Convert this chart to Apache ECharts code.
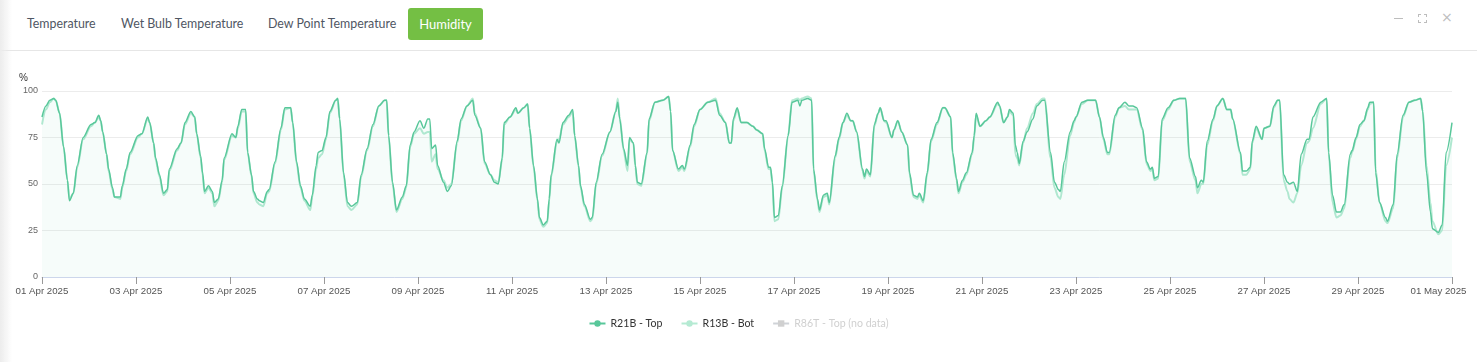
<!DOCTYPE html>
<html>
<head>
<meta charset="utf-8">
<script src="https://cdn.jsdelivr.net/npm/echarts@6/dist/echarts.min.js"></script>
<style>
  html,body{margin:0;padding:0;background:#fff;width:1477px;height:362px;overflow:hidden;}
  #shadow{position:absolute;left:0;top:0;width:12px;height:362px;background:linear-gradient(to right,#ececec,rgba(255,255,255,0));z-index:3;}
  #header{position:absolute;left:0;top:0;width:1477px;height:50px;border-bottom:1px solid #e6e6e6;background:#fff;z-index:2;font-family:Lato,"Open Sans",sans-serif;font-size:12.4px;color:#4f5663;}
  .tab{position:absolute;top:15px;line-height:17px;white-space:nowrap;}
  #hum{position:absolute;left:408px;top:8px;width:75px;height:32px;background:#74bf44;border-radius:3px;color:#fff;text-align:center;line-height:32px;font-size:13px;}
  .ic{position:absolute;background:#bdbdbd;}
  #chart{position:absolute;left:0;top:51px;width:1477px;height:311px;z-index:1;}
</style>
</head>
<body>
<div id="shadow"></div>
<div id="header">
  <div class="tab" style="left:27px">Temperature</div>
  <div class="tab" style="left:121px">Wet Bulb Temperature</div>
  <div class="tab" style="left:268px">Dew Point Temperature</div>
  <div id="hum">Humidity</div>
  <div class="ic" style="left:1394px;top:18px;width:9px;height:1px"></div>
  <div class="ic" style="left:1418px;top:14px;width:3px;height:1px"></div>
  <div class="ic" style="left:1418px;top:14px;width:1px;height:3px"></div>
  <div class="ic" style="left:1424px;top:14px;width:3px;height:1px"></div>
  <div class="ic" style="left:1426px;top:14px;width:1px;height:3px"></div>
  <div class="ic" style="left:1418px;top:22px;width:3px;height:1px"></div>
  <div class="ic" style="left:1418px;top:20px;width:1px;height:3px"></div>
  <div class="ic" style="left:1424px;top:22px;width:3px;height:1px"></div>
  <div class="ic" style="left:1426px;top:20px;width:1px;height:3px"></div>
  <div style="position:absolute;left:1441px;top:9px;font-size:14px;color:#bdbdbd;font-family:'DejaVu Sans',sans-serif;">×</div>
</div>
<div id="chart"></div>
<script>
// Hours since 01 Apr 2025 00:00
const hours = [
  0,2,4,6,7,9,11,13,14,16,18,21,
  25,27,29,30,31,33,34,36,37,40,41,43,45,
  49,51,54,55,57,58,60,62,64,65,69,71,
  73,76,78,79,81,82,83,85,87,88,90,92,93,
  97,99,100,102,104,105,107,108,110,111,113,115,116,119,
  122,124,127,128,130,132,134,137,138,140,141,143,
  145,147,150,151,152,154,156,158,161,163,166,
  169,172,175,176,177,179,181,184,186,188,190,
  193,195,197,198,199,201,202,205,207,209,212,214,
  217,220,221,224,226,229,231,233,235,236,239,
  242,243,246,248,249,251,253,254,256,258,259,260,263,264,
  266,269,271,272,274,275,277,280,281,283,286,
  290,293,294,295,297,299,300,302,303,304,306,309,310,
  313,317,320,321,322,325,327,328,331,333,
  336,340,344,346,349,351,352,353,355,357,
  360,363,365,368,369,371,372,373,374,376,378,381,383,
  386,387,388,391,393,394,396,397,399,401,402,405,407,
  409,411,413,414,416,419,420,421,423,425,427,428,430,431,
  434,435,437,439,442,443,445,447,448,450,452,454,
  457,460,461,464,465,467,468,470,472,475,476,477,479,
  482,484,488,489,491,493,494,496,497,498,499,501,503,
  506,508,511,512,515,517,519,520,522,525,527,528,
  531,534,538,540,542,544,545,548,550,
  553,555,557,559,562,564,566,567,568,570,572,575,
  578,581,584,586,589,590,592,593,595,598,600,
  603,605,607,608,612,613,615,617,618,620,623,624,
  627,629,631,632,634,636,637,639,641,643,646,647,
  649,653,656,657,659,661,663,665,668,669,671,
  673,675,677,678,680,681,683,686,687,690,692,695,
  698,701,704,705,707,709,710,713,715,717,720
];
const r21bTop = [
  86,92,95,96,95,88,70,52,41,45,60,75,
  82,83,87,84,78,66,58,48,43,43,49,58,67,
  76,77,86,83,72,64,55,45,47,58,69,72,
  83,89,86,77,65,56,46,49,46,40,42,52,64,
  77,75,81,90,90,67,55,46,42,41,40,46,47,62,
  80,91,91,83,62,49,42,38,44,60,67,68,
  75,89,95,96,85,56,40,38,40,55,69,
  82,92,95,95,76,51,36,43,49,71,78,
  84,80,85,85,69,71,60,51,46,49,73,85,
  92,95,87,80,62,55,51,50,64,83,86,
  91,88,91,93,80,60,42,32,28,30,42,55,74,72,
  83,87,90,76,60,49,39,31,32,51,66,
  78,89,94,85,69,60,75,72,60,51,50,67,85,
  94,95,97,89,68,58,60,58,71,82,
  90,94,95,87,83,72,72,85,91,83,
  83,81,79,77,69,59,59,51,32,33,49,76,94,
  95,92,95,96,95,58,42,36,44,45,40,65,75,
  83,88,84,84,78,58,54,58,55,82,88,91,84,84,
  75,79,84,78,71,56,44,43,45,41,56,74,
  83,91,91,86,67,53,46,52,56,67,76,88,81,
  84,86,94,92,83,86,90,88,71,67,61,73,78,
  85,92,95,95,67,51,47,46,62,78,84,86,
  94,95,95,86,75,67,67,87,91,
  94,92,92,91,80,62,58,59,53,54,85,91,
  95,96,96,64,54,48,52,51,73,85,92,
  96,90,90,85,67,57,57,59,73,81,74,80,
  81,92,95,95,55,51,50,51,46,66,74,74,
  86,94,96,67,44,35,35,39,66,68,75,
  82,84,91,94,94,56,40,32,30,39,66,87,
  94,95,96,89,56,35,26,24,28,67,83
];
const r13bBot = [
  82,90,94,96,95,88,70,52,42,45,59,74,
  81,83,86,84,78,66,57,47,43,42,48,57,66,
  75,77,85,83,72,63,54,44,46,57,68,72,
  82,88,86,77,64,55,45,48,45,38,41,51,63,
  76,75,80,89,89,67,54,45,40,39,38,45,46,61,
  79,90,91,83,61,48,41,36,43,58,64,66,
  74,88,95,96,85,55,38,36,39,54,68,
  81,92,95,95,76,50,35,42,48,70,77,
  80,77,78,78,62,66,58,52,48,50,72,84,
  92,96,88,80,61,55,52,51,63,82,86,
  90,88,91,93,80,59,41,31,27,29,41,54,73,74,
  82,86,89,76,59,48,38,30,31,50,65,
  78,89,96,86,68,57,74,72,59,50,49,66,84,
  94,95,97,89,68,57,59,57,70,81,
  90,94,96,88,83,72,72,84,90,83,
  83,81,79,77,68,58,58,50,30,31,48,76,95,
  96,95,96,97,96,57,41,35,43,44,39,64,74,
  83,87,84,84,78,57,53,57,54,81,88,91,84,83,
  75,79,84,78,71,55,43,42,44,40,55,73,
  82,91,91,86,66,52,45,51,55,66,75,87,81,
  84,86,93,92,83,86,89,87,66,64,60,72,80,
  88,93,96,96,64,48,43,42,55,76,83,86,
  93,95,95,86,74,66,66,86,91,
  92,90,90,90,79,61,57,58,52,53,84,90,
  95,96,96,62,52,45,50,50,71,84,92,
  96,90,90,85,66,55,55,58,72,80,74,80,
  81,91,95,95,52,46,42,40,45,60,72,73,
  80,93,96,66,40,32,33,37,64,67,74,
  81,84,90,93,94,58,40,30,29,37,64,86,
  94,95,96,90,60,40,30,23,25,60,75
];
const seriesNames = ['R21B - Top', 'R13B - Bot', 'R86T - Top (no data)'];
const xTickLabels = ['01 Apr 2025','03 Apr 2025','05 Apr 2025','07 Apr 2025','09 Apr 2025','11 Apr 2025','13 Apr 2025','15 Apr 2025','17 Apr 2025','19 Apr 2025','21 Apr 2025','23 Apr 2025','25 Apr 2025','27 Apr 2025','29 Apr 2025','01 May 2025'];

const pair = (vals) => hours.map((h, i) => [h, vals[i]]);
const labelFont = '"Liberation Sans", Arial, sans-serif';

const chart = echarts.init(document.getElementById('chart'), null, {renderer: 'canvas', width: 1477, height: 311});
chart.setOption({
  animation: false,
  backgroundColor: '#fff',
  grid: {left: 42, width: 1410, top: 40, bottom: 85, containLabel: false},
  xAxis: {
    type: 'value', min: 0, max: 720, interval: 48,
    axisLine: {show: true, lineStyle: {color: '#ccd6eb', width: 1}},
    axisTick: {show: true, length: 7, lineStyle: {color: '#999'}},
    splitLine: {show: false},
    axisLabel: {
      color: '#555', fontSize: 9.7, fontFamily: labelFont, margin: 9,
      formatter: (v) => {
        const i = Math.round(v / 48);
        const t = xTickLabels[i] || '';
        return i === xTickLabels.length - 1 ? '{last|' + t + '}' : t;
      },
      rich: {last: {color: '#555', fontSize: 9.7, fontFamily: labelFont, padding: [0, 27, 0, 0]}}
    }
  },
  yAxis: {
    type: 'value', min: 0, max: 100, interval: 25,
    name: '%', nameGap: 8,
    nameTextStyle: {color: '#333', fontSize: 10, align: 'right', padding: [0, 14, 0, 0], fontFamily: labelFont},
    axisLine: {show: false}, axisTick: {show: false},
    splitLine: {lineStyle: {color: '#ececec'}},
    axisLabel: {color: '#666', fontSize: 9, margin: 4, fontFamily: labelFont}
  },
  legend: {
    top: 262, left: 'center', itemGap: 18, itemWidth: 16, itemHeight: 8,
    textStyle: {color: '#333', fontSize: 10.6, fontFamily: 'Lato, "Open Sans", sans-serif'},
    inactiveColor: '#d0d0d0',
    selected: {'R86T - Top (no data)': false},
    data: seriesNames
  },
  series: [
    {
      name: seriesNames[0], type: 'line', data: pair(r21bTop), showSymbol: false, symbol: 'circle', symbolSize: 6,
      smooth: 0.3, smoothMonotone: 'x',
      lineStyle: {color: '#58c79a', width: 1.5}, itemStyle: {color: '#58c79a'},
      areaStyle: {color: 'rgba(86,197,150,0.07)'}, z: 3
    },
    {
      name: seriesNames[1], type: 'line', data: pair(r13bBot), showSymbol: false, symbol: 'circle', symbolSize: 4,
      smooth: 0.3, smoothMonotone: 'x',
      lineStyle: {color: '#b5ead3', width: 2}, itemStyle: {color: '#b5ead3'}, z: 2
    },
    {
      name: seriesNames[2], type: 'line', data: [], symbol: 'rect', symbolSize: 7,
      lineStyle: {color: '#bbb', width: 2}, itemStyle: {color: '#bbb'}
    }
  ]
});
</script>
</body>
</html>
